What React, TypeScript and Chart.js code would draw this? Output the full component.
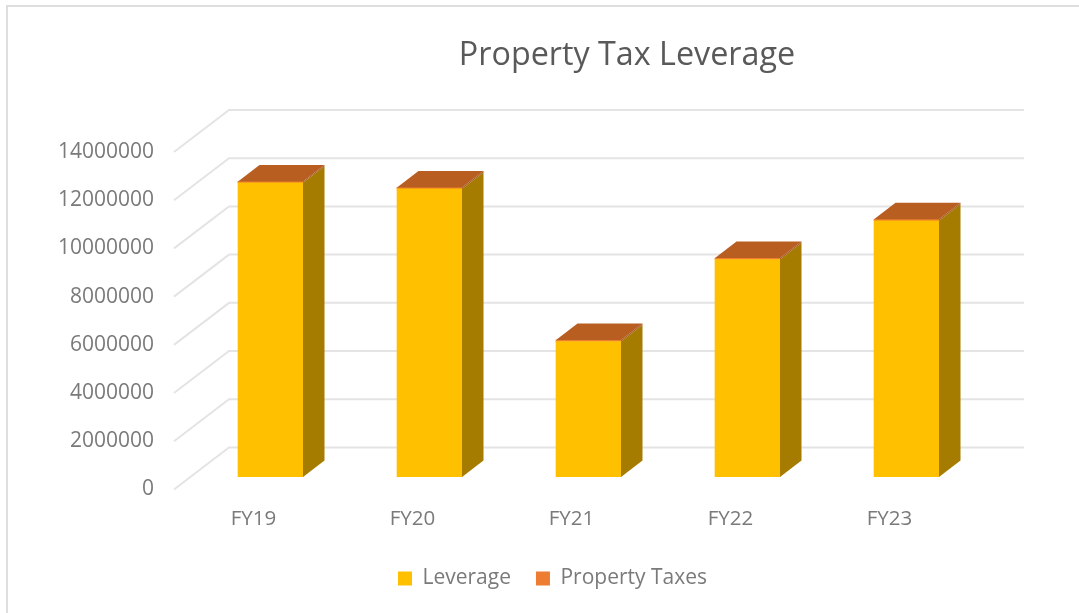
import React, { useEffect, useRef } from "react";
import { Chart, registerables } from "chart.js";

Chart.register(...registerables);

const categories = ["FY19", "FY20", "FY21", "FY22", "FY23"];
const leverage = [12200000, 11950000, 5620000, 9020000, 10630000];
const propertyTaxes = [60000, 60000, 60000, 60000, 60000];

const FONT = '"Open Sans", sans-serif';
const WALL = { dx: 55, dy: -42 };
const BAR_SHIFT = { dx: 17, dy: -12.5 };
const BAR_DEPTH = { dx: 21.5, dy: -16.5 };

const poly = (ctx: CanvasRenderingContext2D, pts: number[][], fill: string) => {
  ctx.beginPath();
  pts.forEach(([x, y], i) => (i ? ctx.lineTo(x, y) : ctx.moveTo(x, y)));
  ctx.closePath();
  ctx.fillStyle = fill;
  ctx.fill();
};

const scene3d = {
  id: "scene3d",
  afterLayout(chart: any) {
    if (chart.titleBlock) {
      chart.titleBlock.left += 142.5;
      chart.titleBlock.right += 142.5;
    }
    if (chart.legend) {
      chart.legend.left += 68;
      chart.legend.right += 68;
    }
  },
  beforeDraw(chart: any) {
    const ctx = chart.ctx;
    ctx.save();
    ctx.strokeStyle = "#dedede";
    ctx.lineWidth = 2;
    ctx.beginPath();
    ctx.moveTo(7, 613);
    ctx.lineTo(7, 6);
    ctx.lineTo(1079, 6);
    ctx.stroke();
    ctx.restore();
  },
  beforeDatasetsDraw(chart: any) {
    const { ctx, chartArea, scales } = chart;
    ctx.save();
    ctx.strokeStyle = "#e4e4e4";
    ctx.lineWidth = 2;
    scales.y.ticks.forEach((t: any) => {
      const y = scales.y.getPixelForValue(t.value);
      ctx.beginPath();
      ctx.moveTo(chartArea.left, y);
      ctx.lineTo(chartArea.left + WALL.dx, y + WALL.dy);
      ctx.lineTo(chartArea.right + WALL.dx, y + WALL.dy);
      ctx.stroke();
    });
    ctx.restore();
    ctx.save();
    ctx.translate(BAR_SHIFT.dx, BAR_SHIFT.dy);
  },
  afterDatasetsDraw(chart: any) {
    const ctx = chart.ctx;
    const lower = chart.getDatasetMeta(0).data;
    const upper = chart.getDatasetMeta(1).data;
    const { dx, dy } = BAR_DEPTH;
    lower.forEach((bar: any, i: number) => {
      const top = upper[i];
      const r = bar.x + bar.width / 2;
      const l = bar.x - bar.width / 2;
      poly(ctx, [[r, bar.base], [r + dx, bar.base + dy], [r + dx, bar.y + dy], [r, bar.y]], "#a67c00");
      poly(ctx, [[r, bar.y], [r + dx, bar.y + dy], [r + dx, top.y + dy], [r, top.y]], "#a65a1f");
      poly(ctx, [[l, top.y], [l + dx, top.y + dy], [r + dx, top.y + dy], [r, top.y]], "#b85e20");
    });
    ctx.restore();
  },
};

export default function App() {
  const ref = useRef<HTMLCanvasElement>(null);
  useEffect(() => {
    const chart = new Chart(ref.current!, {
      type: "bar",
      data: {
        labels: categories,
        datasets: [
          { label: "Leverage", data: leverage, backgroundColor: "#ffc000", barThickness: 65 },
          { label: "Property Taxes", data: propertyTaxes, backgroundColor: "#ed7d31", barThickness: 65 },
        ],
      },
      options: {
        animation: false,
        responsive: false,
        layout: { padding: { left: 0, right: 110, top: 0, bottom: 14 } },
        plugins: {
          tooltip: { enabled: false },
          title: {
            display: true,
            text: "Property Tax Leverage",
            color: "#595959",
            font: { family: FONT, size: 32.3, weight: "normal", lineHeight: 1.2 },
            padding: { top: 36.6, bottom: 76.6 },
          },
          legend: {
            position: "bottom",
            labels: {
              color: "#7a7a7a",
              font: { family: FONT, size: 21 },
              boxWidth: 14,
              boxHeight: 14,
              padding: 25,
            },
          },
        },
        scales: {
          x: {
            stacked: true,
            grid: { display: false, drawTicks: false },
            border: { display: false },
            ticks: { color: "#7a7a7a", font: { family: FONT, size: 20.5 }, padding: 17 },
            afterFit(s: any) {
              s.height = 53.5;
            },
          },
          y: {
            stacked: true,
            min: 0,
            max: 14000000,
            grid: { display: false, drawTicks: false },
            border: { display: false },
            ticks: {
              stepSize: 2000000,
              color: "#7a7a7a",
              font: { family: FONT, size: 21 },
              padding: 20,
              labelOffset: 0,
              callback: (v: any) => String(v),
            },
            afterFit(s: any) {
              s.width = 174;
            },
          },
        },
      },
      plugins: [scene3d],
    } as any);
    return () => chart.destroy();
  }, []);
  return (
    <div style={{ position: "absolute", left: 0, top: 0, width: 1079, height: 613, background: "#fff" }}>
      <canvas ref={ref} width={1079} height={613} style={{ display: "block" }} />
    </div>
  );
}
